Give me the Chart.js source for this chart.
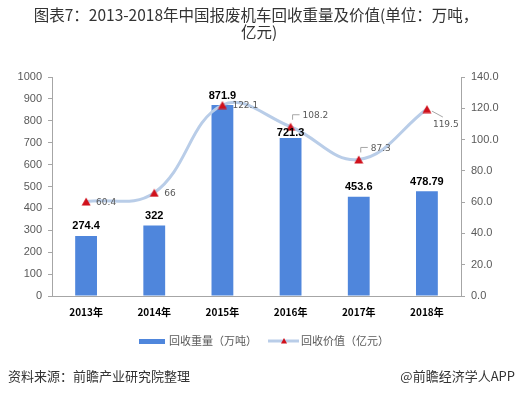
<!DOCTYPE html>
<html>
<head>
<meta charset="utf-8">
<script src="https://cdn.jsdelivr.net/npm/chart.js@4"></script>
<style>
  html, body { margin: 0; padding: 0; background: #fff; }
  #wrap { position: relative; width: 518px; height: 393px; }
</style>
</head>
<body>
<div id="wrap"><canvas id="myChart" width="518" height="393"></canvas></div>
<script>
// data
const years = ['2013年', '2014年', '2015年', '2016年', '2017年', '2018年'];
const weight = [274.4, 322, 871.9, 721.3, 453.6, 478.79];   // 万吨
const value = [60.4, 66, 122.1, 108.2, 87.3, 119.5];        // 亿元
const weightLabels = ['274.4', '322', '871.9', '721.3', '453.6', '478.79'];
const valueLabels = ['60.4', '66', '122.1', '108.2', '87.3', '119.5'];
const leftTicks = [0, 100, 200, 300, 400, 500, 600, 700, 800, 900, 1000];
const rightTicks = [0, 20, 40, 60, 80, 100, 120, 140];

const CJK = '"Noto Sans CJK SC", "Noto Sans", sans-serif';
const barColor = '#4f86dc';
const lineColor = '#b9cde8';
const markColor = '#d0101b';

// draw a triangle marker
function tri(ctx, x, y, r) {
  ctx.beginPath();
  ctx.moveTo(x, y - r);
  ctx.lineTo(x + r, y + r * 0.8);
  ctx.lineTo(x - r, y + r * 0.8);
  ctx.closePath();
  ctx.fill();
}

const extras = {
  id: 'extras',
  afterDatasetsDraw(chart) {
    const ctx = chart.ctx;
    ctx.save();
    // bar labels
    ctx.font = 'bold 11px Arial, "Liberation Sans", sans-serif';
    ctx.fillStyle = '#000';
    ctx.textAlign = 'center';
    ctx.textBaseline = 'bottom';
    chart.getDatasetMeta(1).data.forEach((b, i) => {
      ctx.fillText(weightLabels[i], b.x, b.y - (i === 3 ? 0 : 4));
    });
    // line labels
    ctx.font = '9px "DejaVu Sans", sans-serif';
    ctx.fillStyle = '#595959';
    ctx.strokeStyle = '#a6a6a6';
    ctx.lineWidth = 1;
    ctx.textAlign = 'left';
    ctx.textBaseline = 'middle';
    chart.getDatasetMeta(0).data.forEach((p, i) => {
      let x = p.x, y = p.y;
      if (i === 3 || i === 4) {
        ctx.beginPath();
        ctx.moveTo(x + 2, y - 7);
        ctx.lineTo(x + 2, y - 12);
        ctx.lineTo(x + 9, y - 12);
        ctx.stroke();
        ctx.fillText(valueLabels[i], x + 12, y - 11);
      } else if (i === 5) {
        ctx.beginPath();
        ctx.moveTo(x + 5, y + 2);
        ctx.lineTo(x + 16, y + 8);
        ctx.stroke();
        ctx.fillText(valueLabels[i], x + 6, y + 16);
      } else {
        ctx.fillText(valueLabels[i], x + 10, y + 1);
      }
    });
    ctx.restore();
  },
  afterDraw(chart) {
    const ctx = chart.ctx;
    ctx.save();
    // title
    ctx.fillStyle = '#333';
    ctx.font = '15.5px ' + CJK;
    ctx.textAlign = 'center';
    ctx.textBaseline = 'middle';
    ctx.fillText('图表7：2013-2018年中国报废机车回收重量及价值(单位：万吨，', 256, 15);
    ctx.fillText('亿元)', 259, 32);
    // legend
    ctx.fillStyle = barColor;
    ctx.fillRect(139, 339, 26, 5);
    ctx.font = '11px ' + CJK;
    ctx.fillStyle = '#595959';
    ctx.textAlign = 'left';
    ctx.fillText('回收重量（万吨）', 169, 341);
    ctx.strokeStyle = lineColor;
    ctx.lineWidth = 3;
    ctx.beginPath();
    ctx.moveTo(268, 341);
    ctx.lineTo(299, 341);
    ctx.stroke();
    ctx.fillStyle = markColor;
    tri(ctx, 284, 341, 3);
    ctx.fillStyle = '#595959';
    ctx.fillText('回收价值（亿元）', 301, 341);
    // footer
    ctx.fillStyle = '#333';
    ctx.font = '13px ' + CJK;
    ctx.fillText('资料来源：前瞻产业研究院整理', 8, 376);
    ctx.textAlign = 'right';
    ctx.fillText('@前瞻经济学人APP', 515, 376);
    ctx.restore();
  }
};

const triStyle = (() => {
  const c = document.createElement('canvas');
  c.width = 10; c.height = 9;
  const g = c.getContext('2d');
  g.fillStyle = markColor;
  g.beginPath();
  g.moveTo(5, 0.5); g.lineTo(9.5, 8.5); g.lineTo(0.5, 8.5); g.closePath();
  g.fill();
  return c;
})();

new Chart(document.getElementById('myChart').getContext('2d'), {
  data: {
    labels: years,
    datasets: [{
      type: 'line',
      label: '回收价值（亿元）',
      data: value,
      yAxisID: 'y2',
      borderColor: lineColor,
      borderWidth: 3,
      tension: 0.4,
      pointStyle: triStyle,
      pointRadius: 5,
      order: 0
    }, {
      type: 'bar',
      label: '回收重量（万吨）',
      data: weight,
      yAxisID: 'y',
      backgroundColor: barColor,
      barPercentage: 0.32,
      categoryPercentage: 1,
      order: 1
    }]
  },
  options: {
    responsive: false,
    animation: false,
    layout: { padding: { top: 77, bottom: 67, left: 0, right: 0 } },
    plugins: { legend: { display: false }, title: { display: false }, tooltip: { enabled: false } },
    scales: {
      x: {
        grid: { display: false, drawTicks: false },
        border: { color: '#a6a6a6' },
        ticks: { color: '#000', font: { size: 10, weight: 'bold', family: CJK }, padding: 10 },
        afterFit(s) { s.height = 30; }
      },
      y: {
        position: 'left',
        min: 0, max: 1000,
        afterBuildTicks(s) { s.ticks = leftTicks.map(v => ({ value: v })); },
        grid: { drawOnChartArea: false, tickLength: 4, color: '#a6a6a6' },
        border: { color: '#a6a6a6' },
        ticks: {
          color: '#595959', font: { size: 11, family: 'Arial, "Liberation Sans", sans-serif' }, padding: 6,
          callback: v => String(v)
        },
        afterFit(s) { s.width = 52; }
      },
      y2: {
        position: 'right',
        min: 0, max: 140,
        afterBuildTicks(s) { s.ticks = rightTicks.map(v => ({ value: v })); },
        grid: { drawOnChartArea: false, tickLength: 4, color: '#a6a6a6' },
        border: { color: '#a6a6a6' },
        ticks: {
          color: '#595959', font: { size: 11, family: 'Arial, "Liberation Sans", sans-serif' }, padding: 6,
          callback: v => v.toFixed(1)
        },
        afterFit(s) { s.width = 57; }
      }
    }
  },
  plugins: [extras]
});
</script>
</body>
</html>
